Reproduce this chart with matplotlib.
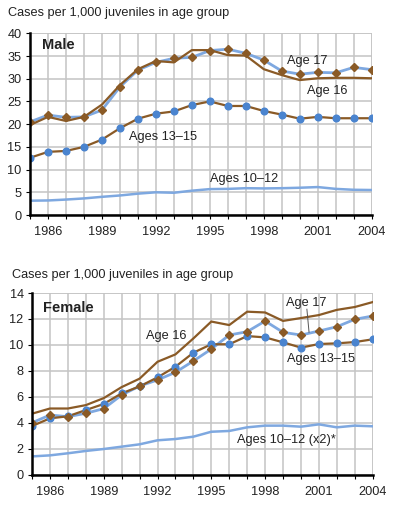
import matplotlib
matplotlib.use("Agg")
import matplotlib.pyplot as plt
import numpy as np

plt.rcParams['font.family'] = ['Liberation Sans', 'DejaVu Sans']

years = list(range(1985, 2005))

male_17 = [20.5, 22.0, 21.5, 21.6, 23.1, 28.2, 31.9, 33.6, 34.5, 34.7,
           36.2, 36.5, 35.6, 34.1, 31.7, 31.0, 31.4, 31.3, 32.5, 32.0]
male_16 = [19.8, 21.6, 20.7, 21.6, 24.3, 28.6, 32.1, 33.9, 33.6, 36.3,
           36.3, 35.2, 35.1, 32.1, 30.8, 29.7, 30.1, 30.2, 30.2, 30.1]
male_13_15 = [12.6, 13.9, 14.1, 15.0, 16.6, 19.1, 21.2, 22.3, 22.8, 24.2,
              25.0, 24.0, 24.0, 22.9, 22.1, 21.2, 21.6, 21.3, 21.3, 21.3]
male_10_12 = [3.15, 3.2, 3.4, 3.65, 4.0, 4.3, 4.7, 5.0, 4.9, 5.35,
              5.7, 5.75, 5.9, 5.85, 5.9, 6.0, 6.15, 5.75, 5.55, 5.5]

female_17 = [4.0, 4.6, 4.47, 4.73, 5.09, 6.14, 6.83, 7.3, 7.89, 8.76,
             9.68, 10.76, 11.02, 11.84, 10.97, 10.76, 11.07, 11.4, 11.97, 12.23]
female_16 = [4.7, 5.1, 5.1, 5.36, 5.9, 6.75, 7.4, 8.7, 9.27, 10.5,
             11.8, 11.53, 12.56, 12.5, 11.85, 12.07, 12.3, 12.7, 12.92, 13.3]
female_13_15 = [3.75, 4.34, 4.5, 4.98, 5.45, 6.27, 6.8, 7.5, 8.32, 9.4,
                10.05, 10.05, 10.68, 10.58, 10.2, 9.79, 10.07, 10.12, 10.22, 10.43]
female_10_12_x2 = [1.41, 1.49, 1.65, 1.83, 1.98, 2.16, 2.34, 2.65, 2.75, 2.93,
                   3.31, 3.37, 3.65, 3.78, 3.78, 3.7, 3.88, 3.65, 3.78, 3.73]

tick_years = [1986, 1989, 1992, 1995, 1998, 2001, 2004]
title_text = "Cases per 1,000 juveniles in age group"

BROWN = "#8a5a26"
LBLUE = "#7ea8e0"
MBLUE = "#4a84cf"
GRID = "#c4c4c4"
TXT = "#222222"

W, H = 400, 514
fig = plt.figure(figsize=(W / 100, H / 100), dpi=100)


def px_axes(x0, y0, x1, y1):
    return fig.add_axes([x0 / W, 1 - y1 / H, (x1 - x0) / W, (y1 - y0) / H])


def style(ax, ymax, ystep):
    ax.set_xlim(1985, 2004)
    ax.set_ylim(0, ymax)
    ax.set_xticks(years, minor=True)
    ax.set_xticks(tick_years)
    ax.set_xticklabels([str(y) for y in tick_years])
    ax.set_yticks(np.arange(0, ymax + 0.01, ystep))
    ax.grid(True, which='both', axis='x', color=GRID, lw=1.1, zorder=0)
    ax.grid(True, which='major', axis='y', color=GRID, lw=1.1, zorder=0)
    ax.set_axisbelow(True)
    for s in ['top', 'right']:
        ax.spines[s].set_visible(False)
    for s in ['left', 'bottom']:
        ax.spines[s].set_linewidth(1.8)
        ax.spines[s].set_color('black')
        ax.spines[s].set_zorder(5)
    ax.tick_params(axis='x', which='both', length=3, width=0.8, pad=5,
                   labelsize=9.2, direction='out', labelcolor=TXT)
    ax.tick_params(axis='y', length=3, width=0.8, pad=3, labelsize=9.2,
                   labelcolor=TXT)
    ax.axhline(ymax, color=GRID, lw=1.1, zorder=0)
    ax.axvline(2004, color=GRID, lw=1.1, zorder=0)


def draw(ax, s17, s16, s1315, s1012):
    ax.plot(years, s1012, color=LBLUE, lw=1.8, zorder=2)
    ax.plot(years, s17, color=LBLUE, lw=2.0, zorder=3)
    ax.plot(years, s16, color=BROWN, lw=1.6, zorder=3)
    ax.plot(years, s1315, color=BROWN, lw=1.6, zorder=3)
    ax.plot(years, s1315, ls='none', marker='o', ms=4.8, color=MBLUE,
            mec=MBLUE, zorder=4)
    ax.plot(years, s17, ls='none', marker='D', ms=4.1, color=BROWN,
            mec=BROWN, zorder=4)


# Male panel
ax1 = px_axes(30, 33.3, 371.7, 215)
style(ax1, 40, 5)
draw(ax1, male_17, male_16, male_13_15, male_10_12)
ax1.text(1985.67, 37.4, "Male", fontsize=10.5, fontweight='bold', va='center',
         ha='left', color=TXT)
ax1.text(2000.4, 33.8, "Age 17", fontsize=9.2, ha='center', va='center', color=TXT)
ax1.text(2001.5, 27.3, "Age 16", fontsize=9.2, ha='center', va='center', color=TXT)
ax1.text(1992.4, 17.2, "Ages 13\u201315", fontsize=9.2, ha='center', va='center', color=TXT)
ax1.text(1996.9, 7.9, "Ages 10\u201312", fontsize=9.2, ha='center', va='center', color=TXT)
fig.text(8 / W, 1 - 13 / H, title_text, fontsize=9.2, ha='left', va='center', color=TXT)

# Female panel
ax2 = px_axes(32, 293, 372.7, 474.7)
style(ax2, 14, 2)
draw(ax2, female_17, female_16, female_13_15, female_10_12_x2)
ax2.text(1985.6, 12.85, "Female", fontsize=10.5, fontweight='bold', va='center',
         ha='left', color=TXT)
ax2.text(2000.3, 13.25, "Age 17", fontsize=9.2, ha='center', va='center', color=TXT)
ax2.plot([2000.33, 2000.45], [12.75, 10.98], color='#555555', lw=0.7, zorder=5)
ax2.text(1992.5, 10.7, "Age 16", fontsize=9.2, ha='center', va='center', color=TXT)
ax2.text(2001.1, 8.9, "Ages 13\u201315", fontsize=9.2, ha='center', va='center', color=TXT)
ax2.text(1999.2, 2.67, "Ages 10\u201312 (x2)*", fontsize=9.2, ha='center', va='center', color=TXT)
fig.text(12 / W, 1 - 275 / H, title_text, fontsize=9.2, ha='left', va='center', color=TXT)

fig.savefig("out.png", dpi=100)
